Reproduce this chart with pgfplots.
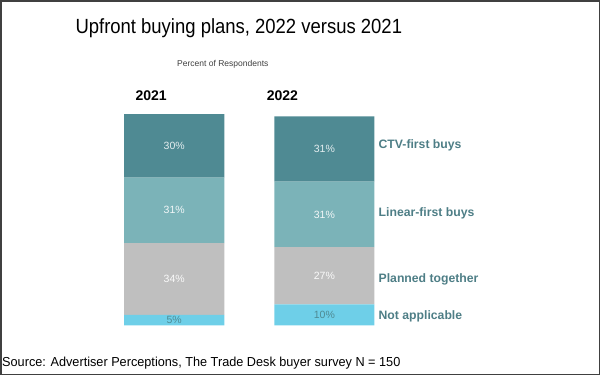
\documentclass[border=0pt]{standalone}
\usepackage{pgfplots}
\pgfplotsset{compat=1.18}
\usepackage{fontspec}
\setmainfont{Liberation Sans}
\newfontfamily\titlefont[FakeStretch=0.9]{Liberation Sans}
\newfontfamily\srcfont[FakeStretch=0.975]{Liberation Sans}
\definecolor{ctv}{HTML}{4F8A93}
\definecolor{lin}{HTML}{7BB3B8}
\definecolor{plan}{HTML}{BFBFBF}
\definecolor{na}{HTML}{6ECFE8}
\definecolor{lab}{HTML}{4E7E86}
\definecolor{frame}{HTML}{404040}
\begin{document}
\begin{tikzpicture}[x=1bp,y=1bp]
\draw[frame, line width=1.5bp] (0.75,0.75) rectangle (598.5,374.25);
\node[anchor=base, font=\titlefont\fontsize{20.5bp}{24bp}\selectfont] at (238.5,342) {Upfront buying plans, 2022 versus 2021};
\node[anchor=base, text=black!75, font=\fontsize{8.5bp}{10bp}\selectfont] at (222.5,309) {Percent of Respondents};
\node[anchor=base, font=\fontsize{14bp}{16bp}\selectfont\bfseries] at (151,275) {2021};
\node[anchor=base, font=\fontsize{14bp}{16bp}\selectfont\bfseries] at (282,275) {2022};
\node[anchor=base west, inner sep=0pt, font=\srcfont\fontsize{13bp}{15bp}\selectfont] at (2,8.5) {Source: Advertiser Perceptions, The Trade Desk buyer survey N = 150};
\begin{axis}[
  at={(99bp,50bp)}, anchor=south west,
  scale only axis, width=300bp, height=211bp,
  xmin=-0.5, xmax=1.5, ymin=0, ymax=100,
  hide axis, clip=false,
  ybar stacked, bar width=100bp,
  /pgf/number format/assume math mode=true,
  nodes near coords={\pgfmathprintnumber{\pgfplotspointmeta}\%},
  every node near coord/.append style={anchor=center, font=\fontsize{10.5bp}{12bp}\selectfont},
]
\addplot[fill=na, draw=none, every node near coord/.append style={text=ctv}] coordinates {(0,5) (1,10)};
\addplot[fill=plan, draw=none, every node near coord/.append style={text=white!92!plan}] coordinates {(0,34) (1,27)};
\addplot[fill=lin, draw=none, every node near coord/.append style={text=white!90!lin}] coordinates {(0,31) (1,31)};
\addplot[fill=ctv, draw=none, every node near coord/.append style={text=white!85!ctv}] coordinates {(0,30) (1,31)};
\end{axis}
\begin{scope}[every node/.style={anchor=west, inner sep=0pt, text=lab, font=\fontsize{12.2bp}{14bp}\selectfont\bfseries}]
\node at (378,230) {CTV-first buys};
\node at (378,162) {Linear-first buys};
\node at (378,96) {Planned together};
\node at (378,59) {Not applicable};
\end{scope}
\end{tikzpicture}
\end{document}
